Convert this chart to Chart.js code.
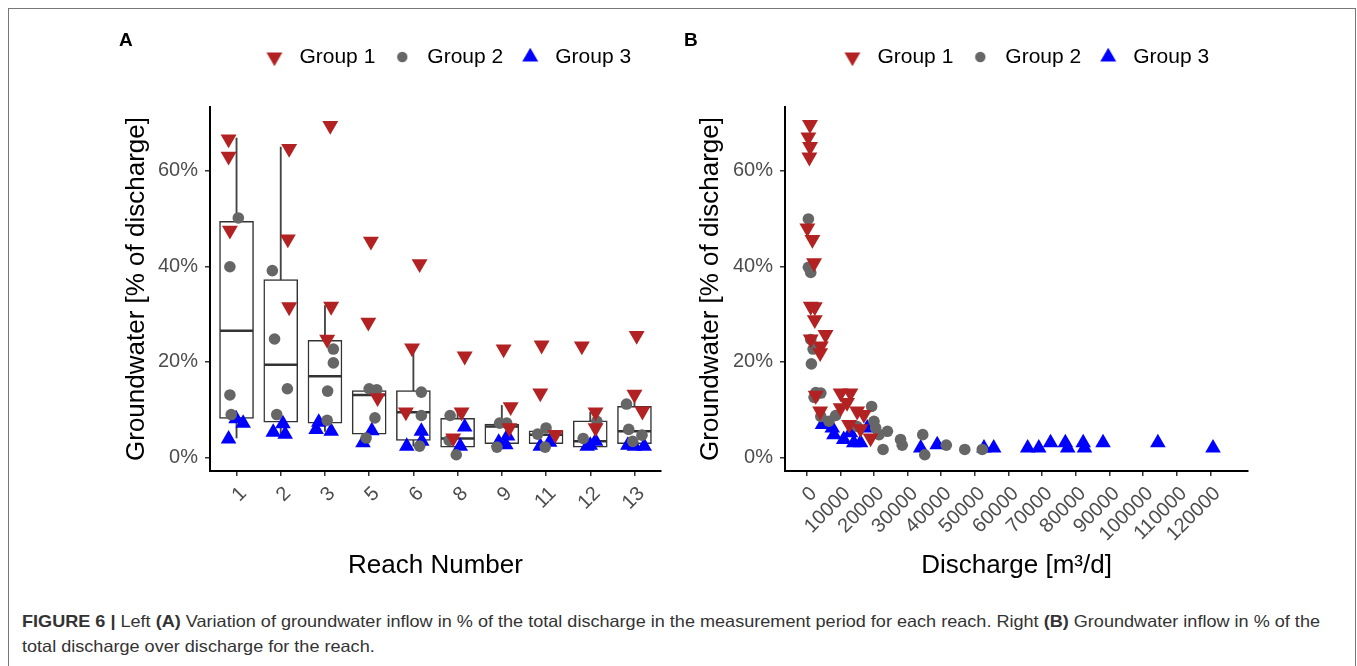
<!DOCTYPE html>
<html>
<head>
<meta charset="utf-8">
<script src="https://cdn.jsdelivr.net/npm/chart.js@4.4.1/dist/chart.umd.min.js"></script>
<style>
  html, body { margin: 0; padding: 0; background: #fff; }
  body { width: 1357px; height: 666px; position: relative; overflow: hidden; font-family: "Liberation Sans", Arial, sans-serif; }
  .frame { position: absolute; left: 8px; top: 8px; width: 1348px; height: 700px; border: 1px solid #777; box-sizing: border-box; }
  .panel { position: absolute; top: 0; }
  #left-chart { left: 0; }
  #right-chart { left: 680px; }
  .tag { position: absolute; top: 29px; font-weight: bold; font-size: 19px; color: #000; }
  .caption { position: absolute; left: 22px; top: 609px; font-family: "Liberation Sans Narrow", "Arial Narrow", "Liberation Sans", sans-serif; font-size: 16.5px; line-height: 25px; color: #333; transform-origin: 0 0; white-space: nowrap; }
  .caption span { display: inline-block; }
</style>
</head>
<body>
<div class="frame"></div>
<canvas id="left-chart" class="panel" width="680" height="590"></canvas>
<canvas id="right-chart" class="panel" width="677" height="590"></canvas>
<div class="tag" style="left:119px">A</div>
<div class="tag" style="left:684px">B</div>
<div class="caption" id="caption"><span id="cap1"><b>FIGURE 6 |</b> Left <b>(A)</b> Variation of groundwater inflow in % of the total discharge in the measurement period for each reach. Right <b>(B)</b> Groundwater inflow in % of the</span><br><span>total discharge over discharge for the reach.</span></div>

<script>
// reaches on the left panel and the tick labels
const reaches = ['1', '2', '3', '5', '6', '8', '9', '11', '12', '13'];
const pctTicks = [0, 20, 40, 60];
const dischargeTicks = [0, 10000, 20000, 30000, 40000, 50000, 60000, 70000, 80000, 90000, 100000, 110000, 120000];

// box plot stats per reach (% of discharge)
const boxLow  = [4.1, 4.9, 5.5, 3.1, 2.4, 0.6, 2.2, 2.2, 2.2, 2.4];
const boxQ1   = [8.2, 7.4, 7.2, 4.9, 3.6, 2.2, 2.9, 2.9, 2.2, 2.9];
const boxMed  = [26.5, 19.4, 17.0, 13.1, 9.5, 4.0, 6.5, 4.8, 3.4, 5.5];
const boxQ3   = [49.4, 37.2, 24.5, 14.0, 14.0, 8.2, 7.0, 5.6, 7.7, 10.7];
const boxHigh = [66.8, 64.9, 31.8, 14.4, 23.0, 9.5, 10.9, 6.2, 9.5, 13.2];

// panel A points: jittered reach position and groundwater %
const g1PosA = [0.82, 0.82, 0.85, 2.19, 2.16, 2.19, 3.12, 3.14, 3.05, 4.04, 3.98, 4.19, 5.14, 4.97, 4.83, 6.16, 6.09, 5.9, 7.04, 7.2, 7.17, 7.9, 7.87, 8.21, 8.81, 9.12, 9.12, 10.05, 10.0, 10.18];
const g1PctA = [66.6, 63.0, 47.5, 64.6, 45.7, 31.5, 69.4, 31.6, 24.7, 45.2, 28.3, 12.5, 40.5, 22.9, 9.5, 21.2, 9.5, 4.1, 22.7, 10.6, 6.2, 23.5, 13.5, 4.8, 23.3, 9.5, 6.2, 25.5, 13.2, 9.7];
const g2PosA = [1.04, 0.85, 0.85, 0.88, 1.81, 1.86, 2.15, 1.91, 3.19, 3.19, 3.06, 3.05, 4.0, 4.17, 4.13, 3.93, 5.18, 5.18, 5.14, 5.83, 5.81, 5.97, 6.95, 7.11, 6.89, 8.0, 7.81, 7.98, 9.15, 8.84, 9.82, 9.87, 10.17, 9.96];
const g2PctA = [50.1, 39.9, 13.1, 9.0, 39.1, 24.8, 14.4, 9.0, 22.7, 19.8, 13.9, 7.8, 14.4, 14.2, 8.3, 4.1, 13.7, 8.8, 2.4, 8.8, 3.6, 0.6, 7.2, 7.2, 2.2, 6.2, 4.9, 2.2, 7.6, 4.0, 11.2, 5.9, 4.7, 3.4];
const g3PosA = [0.99, 1.15, 0.82, 2.05, 1.83, 2.1, 2.86, 2.8, 3.14, 4.06, 3.86, 5.18, 5.19, 4.85, 6.16, 6.06, 7.13, 7.09, 6.93, 7.87, 8.08, 9.12, 8.93, 9.0, 10.0, 10.22, 9.85];
const g3PctA = [8.1, 7.2, 3.9, 7.1, 5.3, 4.9, 7.4, 5.9, 5.5, 5.6, 3.1, 5.5, 3.4, 2.4, 6.4, 2.4, 4.5, 2.7, 3.2, 2.4, 3.2, 3.4, 2.4, 2.6, 2.4, 2.4, 2.6];

// panel B points: discharge [m3/d] and groundwater %
const g1Q = [980, 500, 1000, 800, 200, 1700, 2200, 1200, 2400, 2400, 1200, 5600, 4200, 4000, 2700, 10100, 13000, 10100, 15000, 17000, 4000, 12600, 19000, 12000, 16000];
const g1P = [69.6, 67.0, 65.0, 62.8, 48.0, 45.6, 40.7, 31.6, 31.5, 28.8, 24.8, 25.7, 23.3, 21.9, 13.0, 13.5, 13.5, 10.4, 9.7, 9.0, 9.7, 6.9, 4.1, 11.5, 6.0];
const g2Q = [500, 500, 1200, 1200, 1900, 1400, 2700, 4200, 2200, 4200, 6600, 8600, 15000, 19300, 20000, 20500, 21500, 24000, 22700, 27900, 28400, 34500, 35100, 41500, 47000, 52200];
const g2P = [49.9, 39.8, 38.7, 24.7, 22.7, 19.6, 13.6, 13.5, 12.6, 8.6, 7.6, 8.8, 6.5, 10.7, 7.6, 6.2, 4.8, 5.5, 1.7, 3.8, 2.6, 4.8, 0.6, 2.6, 1.7, 1.7];
const g3Q = [4700, 7600, 8100, 11000, 13000, 14000, 16000, 18000, 33900, 38800, 52700, 55600, 65700, 69000, 72500, 76900, 77600, 82200, 82600, 88100, 104400, 120800];
const g3P = [6.9, 6.2, 4.8, 3.8, 5.2, 3.1, 3.1, 6.2, 2.0, 2.7, 2.0, 2.0, 2.0, 2.0, 3.1, 3.1, 2.0, 3.1, 2.0, 3.1, 3.1, 2.0];

const RED = '#B22222', GREY = '#666666', BLUE = '#0000FF';
const TICK = '#4D4D4D';
const FONT = '"Liberation Sans", Arial, sans-serif';

function pairs(xs, ys) {
    return xs.map((x, i) => ({x: x, y: ys[i]}));
}

// legend marks as small canvases so every mark keeps its own size
function legendMark(style, radius, rotation, color) {
    const c = document.createElement('canvas');
    c.width = 24;
    c.height = 24;
    const ctx = c.getContext('2d');
    ctx.fillStyle = color;
    Chart.helpers.drawPoint(ctx, {pointStyle: style, radius: radius, rotation: rotation, borderWidth: 0}, 12, 12);
    return c;
}

const legendItems = [
    {text: 'Group 1', mark: legendMark('triangle', 9.2, 180, RED)},
    {text: 'Group 2', mark: legendMark('circle', 5.2, 0, GREY)},
    {text: 'Group 3', mark: legendMark('triangle', 9.2, 0, BLUE)}
];

// push the plot area down and nudge the legend row to where the reference has it
function legendSpace(shiftX) {
    return {
        id: 'legendSpace',
        beforeLayout(chart) {
            const legend = chart.legend;
            if (!legend || legend._patched) return;
            const fit = legend.fit;
            const draw = legend.draw;
            legend.fit = function () {
                fit.call(this);
                this.height = 107 - chart.options.layout.padding.top;
            };
            legend.draw = function () {
                this.ctx.save();
                this.ctx.translate(shiftX, 0);
                draw.call(this);
                this.ctx.restore();
            };
            legend._patched = true;
        }
    };
}

function groupSets(d1, d2, d3) {
    return [
        {label: 'Group 1', data: d1, pointStyle: 'triangle', pointRotation: 180, pointRadius: 9.2,
         pointBackgroundColor: RED, pointBorderWidth: 0, order: 0},
        {label: 'Group 2', data: d2, pointStyle: 'circle', pointRadius: 5.8,
         pointBackgroundColor: GREY, pointBorderWidth: 0, order: 0},
        {label: 'Group 3', data: d3, pointStyle: 'triangle', pointRadius: 9.0,
         pointBackgroundColor: BLUE, pointBorderWidth: 0, order: 0}
    ];
}

const tickFont = {family: FONT, size: 20};

function baseOptions(xScale, padLeft, padRight, yWidth) {
    return {
        responsive: false,
        animation: false,
        events: [],
        layout: {padding: {top: 34, left: padLeft, right: padRight, bottom: 5}},
        plugins: {
            tooltip: {enabled: false},
            legend: {
                display: true,
                position: 'top',
                fullSize: false,
                labels: {
                    usePointStyle: true,
                    pointStyleWidth: 29,
                    padding: 12.5,
                    color: '#000',
                    font: {family: FONT, size: 21},
                    generateLabels: () => legendItems.map((it, i) => ({
                        text: it.text, pointStyle: it.mark, rotation: 0, fillStyle: 'transparent',
                        strokeStyle: 'transparent', lineWidth: 0, hidden: false, datasetIndex: i, fontColor: '#000'
                    }))
                }
            }
        },
        scales: {
            x: xScale,
            y: {
                type: 'linear',
                min: -2.8,
                max: 73.3,
                afterFit: s => { s.width = yWidth; },
                afterBuildTicks: s => { s.ticks = pctTicks.map(v => ({value: v})); },
                border: {display: true, color: '#000', width: 2},
                grid: {display: true, drawOnChartArea: false, drawTicks: true, tickLength: 5, color: '#333', lineWidth: 1.5},
                ticks: {color: TICK, font: tickFont, padding: 7, callback: v => v + '%'},
                title: {display: true, text: 'Groundwater [% of discharge]', color: '#000', font: {family: FONT, size: 26}}
            }
        }
    };
}

function xAxis(extra, title) {
    return Object.assign({
        type: 'linear',
        offset: false,
        afterFit: s => { s.height = 114; },
        border: {display: true, color: '#000', width: 2},
        grid: {display: true, offset: false, drawOnChartArea: false, drawTicks: true, tickLength: 5, color: '#333', lineWidth: 1.5},
        title: {display: true, text: title, color: '#000', font: {family: FONT, size: 26}}
    }, extra);
}

// left panel: box plots per reach with the points on top
const reachPos = reaches.map((r, i) => i + 1);
const leftSets = groupSets(pairs(g1PosA, g1PctA), pairs(g2PosA, g2PctA), pairs(g3PosA, g3PctA));
leftSets.push({
    type: 'scatter', label: 'median', data: pairs(reachPos, boxMed),
    pointStyle: 'line', pointRadius: 16.5, pointBorderWidth: 2.5, pointBorderColor: '#333', order: 1
});
leftSets.push({
    type: 'bar', label: 'box', data: reachPos.map((x, i) => ({x: x, y: [boxQ1[i], boxQ3[i]]})),
    backgroundColor: '#fff', borderColor: '#333', borderWidth: 1.5, borderSkipped: false,
    barThickness: 34, grouped: false, order: 2
});
leftSets.push({
    type: 'bar', label: 'whisker', data: reachPos.map((x, i) => ({x: x, y: [boxLow[i], boxHigh[i]]})),
    backgroundColor: '#444', borderWidth: 0, barThickness: 1.2, grouped: false, order: 3
});

const xTicks = {color: TICK, font: tickFont, minRotation: 45, maxRotation: 45, autoSkip: false,
                padding: 6, labelOffset: 7};

new Chart(document.getElementById('left-chart'), {
    type: 'scatter',
    data: {datasets: leftSets},
    options: baseOptions(xAxis({
        min: 0.4,
        max: 10.6,
        afterBuildTicks: s => { s.ticks = reachPos.map(v => ({value: v})); },
        ticks: Object.assign({callback: v => reaches[v - 1]}, xTicks)
    }, 'Reach Number'), 117, 8, 93),
    plugins: [legendSpace(10)]
});

// right panel: groundwater share over discharge
new Chart(document.getElementById('right-chart'), {
    type: 'scatter',
    data: {datasets: groupSets(pairs(g1Q, g1P), pairs(g2Q, g2P), pairs(g3Q, g3P))},
    options: baseOptions(xAxis({
        min: -6450,
        max: 131200,
        afterBuildTicks: s => { s.ticks = dischargeTicks.map(v => ({value: v})); },
        ticks: Object.assign({callback: v => String(v)}, xTicks)
    }, 'Discharge [m³/d]'), 11, 109, 94),
    plugins: [legendSpace(7)]
});

// fit the caption's first line to the width it has in the reference
const cap = document.getElementById('caption');
const w = document.getElementById('cap1').getBoundingClientRect().width;
cap.style.transform = 'scaleX(' + (1298 / w) + ')';
</script>
</body>
</html>
